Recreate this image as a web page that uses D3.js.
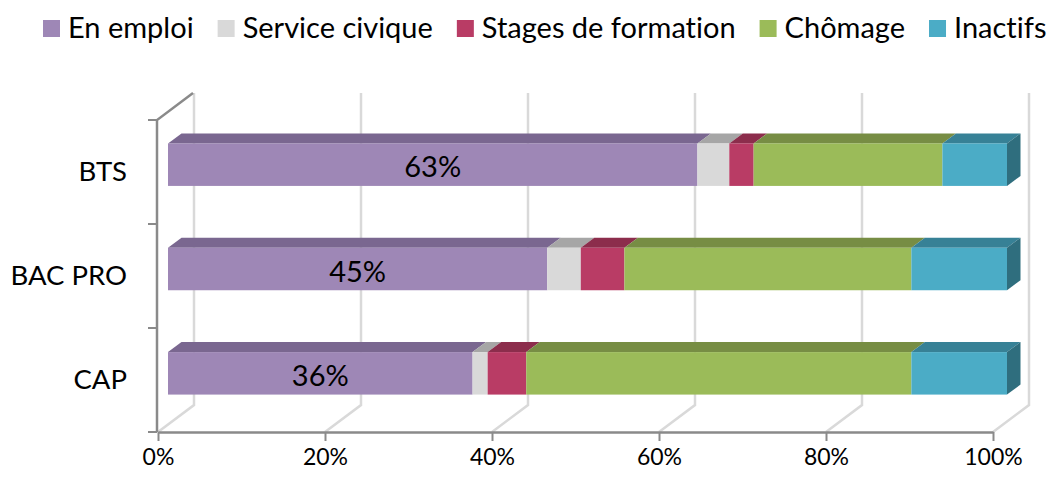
<!DOCTYPE html>
<html>
<head>
<meta charset="utf-8">
<script src="https://cdn.jsdelivr.net/npm/d3@7"></script>
<style>
  html, body { margin: 0; padding: 0; background: #fff; }
  svg { display: block; font-family: Lato, "Open Sans", sans-serif; font-variant-ligatures: none; }
</style>
</head>
<body>
<svg id="chart" width="1058" height="477"></svg>
<script>
// ---- data ----
const categories = ["BTS", "BAC PRO", "CAP"];
const seriesNames = ["En emploi", "Service civique", "Stages de formation", "Chômage", "Inactifs"];
const enEmploi       = [63.1, 45.2, 36.3];
const serviceCivique = [3.8, 4.0, 1.8];
const stages         = [2.9, 5.2, 4.6];
const chomage        = [22.5, 34.2, 45.9];
const inactifs       = [7.7, 11.4, 11.4];
const xTickValues = [0, 20, 40, 60, 80, 100];
const xTickLabels = ["0%", "20%", "40%", "60%", "80%", "100%"];

// colours: front, top, side
const frontColors = ["#9E87B6", "#D9D9D9", "#B93C65", "#9BBB59", "#4BACC6"];
const topColors   = ["#7A6790", "#A6A6A6", "#8C2D4C", "#778D44", "#378196"];
const sideColors  = ["#5E4F70", "#8A8A8A", "#6E2340", "#5E7035", "#2F6E7E"];

const seriesValues = [enEmploi, serviceCivique, stages, chomage, inactifs];
const table = categories.map((c, i) => {
  const row = { cat: c };
  seriesNames.forEach((s, j) => row[s] = seriesValues[j][i]);
  return row;
});
const stacked = d3.stack().keys(seriesNames)(table);

const svg = d3.select("#chart");

// ---- scales ----
const x = d3.scaleLinear().domain([0, 100]).range([158, 993]);       // floor / axis plane
const xBar = d3.scaleLinear().domain([0, 100]).range([168, 1007]);   // bar front plane
const yWall = d3.scaleBand().domain(categories).range([120, 432]);   // left wall
const yBar = d3.scalePoint().domain(categories).range([112.5, 425.5]).padding(0.5);
const barH = 42.5;
const depth = { dx: 36, dy: -27 };
const barDepth = { dx: 13.5, dy: -10 };
const wallTop = 120, floorY = 432;

// ---- gridlines (back wall + floor) ----
const grid = svg.append("g");
xTickValues.forEach(t => {
  const bx = x(t) + depth.dx;
  grid.append("polyline")
    .attr("points", [[bx, wallTop + depth.dy], [bx, floorY + depth.dy], [x(t), floorY]].map(p => p.join(",")).join(" "))
    .attr("fill", "none").attr("stroke", "#D9D9D9").attr("stroke-width", 2.5);
});

// ---- left wall ----
svg.append("polyline")
  .attr("points", [[x(0) + depth.dx - 1, wallTop + depth.dy], [x(0) - 1, wallTop], [x(0) - 1, floorY]].map(p => p.join(",")).join(" "))
  .attr("fill", "none").attr("stroke", "#8A8A8A").attr("stroke-width", 2.5);

// wall ticks at band boundaries
const wallTicks = categories.map(c => yWall(c)).concat([yWall(categories[categories.length - 1]) + yWall.bandwidth()]);
svg.append("g").selectAll("line").data(wallTicks).join("line")
  .attr("x1", x(0) - 10).attr("x2", x(0) - 1)
  .attr("y1", d => d).attr("y2", d => d)
  .attr("stroke", "#8A8A8A").attr("stroke-width", 2);

// category labels
const yAxis = svg.append("g")
  .attr("transform", `translate(${x(0) - 1},0)`)
  .call(d3.axisLeft(yWall).tickSize(0).tickPadding(30));
yAxis.select(".domain").remove();
yAxis.selectAll("text").attr("font-size", 27.5).attr("font-family", "Lato, sans-serif").attr("fill", "#000");

// ---- x axis ----
const xAxis = svg.append("g")
  .attr("transform", `translate(0,${floorY})`)
  .call(d3.axisBottom(x).tickValues(xTickValues).tickFormat((d, i) => xTickLabels[i]).tickSize(9).tickSizeOuter(0).tickPadding(8));
xAxis.select(".domain").attr("stroke", "#8A8A8A").attr("stroke-width", 2.5);
xAxis.selectAll(".tick line").attr("stroke", "#8A8A8A").attr("stroke-width", 2);
xAxis.selectAll("text").attr("font-size", 23).attr("font-family", "Lato, sans-serif").attr("fill", "#000");

// ---- bars ----
const bars = svg.append("g");
stacked.forEach((layer, si) => {
  layer.forEach((d, ci) => {
    const cat = categories[ci];
    const x0 = xBar(d[0]), x1 = xBar(d[1]);
    const yT = yBar(cat) - barH / 2, yB = yBar(cat) + barH / 2;
    const g = bars.append("g");
    g.append("polygon")
      .attr("points", [[x0, yT], [x0 + barDepth.dx, yT + barDepth.dy], [x1 + barDepth.dx, yT + barDepth.dy], [x1, yT]].map(p => p.join(",")).join(" "))
      .attr("fill", topColors[si]);
    if (si === stacked.length - 1) {
      g.append("polygon")
        .attr("points", [[x1, yT], [x1 + barDepth.dx, yT + barDepth.dy], [x1 + barDepth.dx, yB + barDepth.dy], [x1, yB]].map(p => p.join(",")).join(" "))
        .attr("fill", sideColors[si]);
    }
    g.append("rect")
      .attr("x", x0).attr("y", yT).attr("width", x1 - x0).attr("height", barH)
      .attr("fill", frontColors[si]);
  });
});

// data labels on "En emploi"
bars.selectAll("text.lbl").data(stacked[0]).join("text")
  .attr("class", "lbl")
  .attr("x", d => (xBar(d[0]) + xBar(d[1])) / 2)
  .attr("y", (d, i) => yBar(categories[i]) + 1)
  .attr("text-anchor", "middle").attr("dominant-baseline", "central")
  .attr("font-size", 29).attr("fill", "#000")
  .text(d => Math.round(d[1] - d[0]) + "%");

// ---- legend ----
const legend = svg.append("g");
let lx = 43;
seriesNames.forEach((s, i) => {
  legend.append("rect").attr("x", lx).attr("y", 20).attr("width", 17).attr("height", 17).attr("fill", frontColors[i]);
  const t = legend.append("text").attr("x", lx + 25).attr("y", 38)
    .attr("font-size", 29).attr("fill", "#000").text(s);
  lx += 25 + t.node().getComputedTextLength() + 24;
});
</script>
</body>
</html>
